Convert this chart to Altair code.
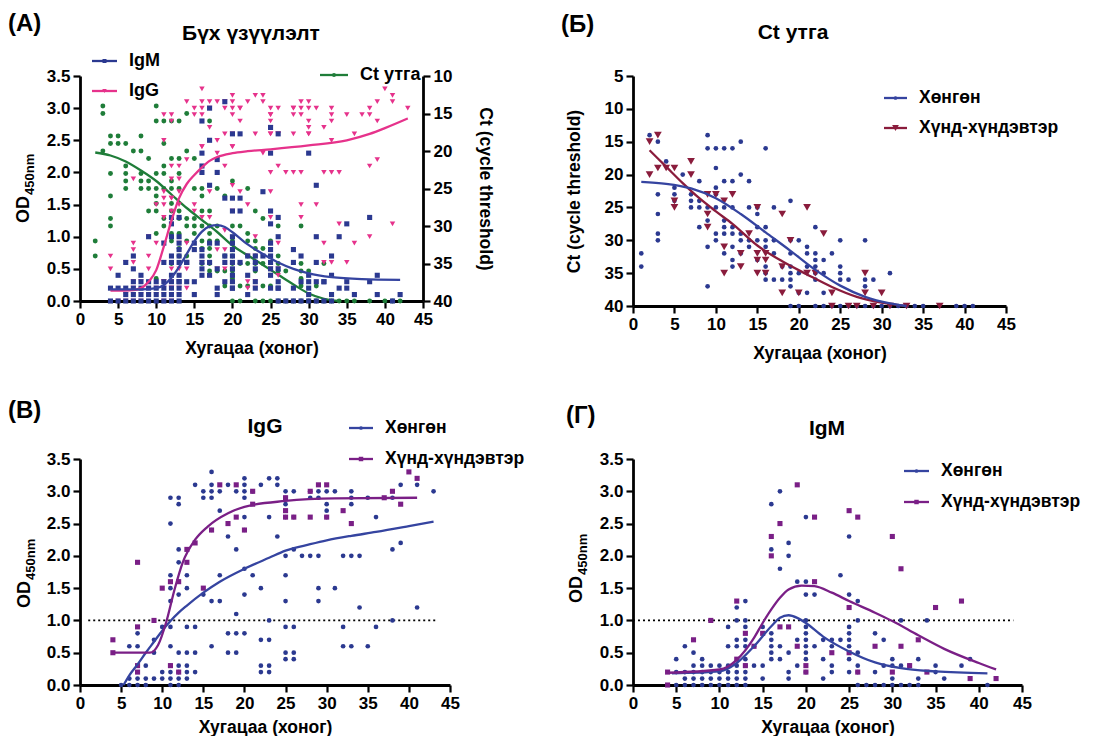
import altair as alt
import pandas as pd

FONT = "Liberation Sans"

# ---------------- data ----------------
x_ticks = [0, 5, 10, 15, 20, 25, 30, 35, 40, 45]
od_ticks = [0.0, 0.5, 1.0, 1.5, 2.0, 2.5, 3.0, 3.5]
ct_ticks_a = [10, 15, 20, 25, 30, 35, 40]
ct_ticks_b = [5, 10, 15, 20, 25, 30, 35, 40]

# Panel Б : Ct by day
ct_mild = {1: [32, 34], 2: [14], 3: [15, 23, 26, 29, 30], 4: [18], 5: [22, 23, 24], 6: [20],
           7: [23, 24, 25], 8: [21, 24, 25, 28], 9: [14, 16, 25, 27, 31, 37],
           10: [16, 19, 22, 23, 25, 29, 30], 11: [16, 21, 25, 27, 28, 29, 32],
           12: [16, 21, 25, 28, 29, 31, 33, 34], 13: [15, 20, 29, 30, 32], 14: [21, 25, 30, 31],
           15: [25, 26, 28, 30, 33], 16: [16, 28, 30, 31, 34, 35, 36], 17: [25, 30, 32, 36],
           18: [34, 36], 19: [24, 30, 32, 34, 35, 36, 37, 40], 20: [30, 35, 38, 40],
           21: [31, 32, 34, 38], 22: [28, 32, 33, 34, 35, 36, 40], 23: [33, 35, 38, 40],
           24: [32, 40], 25: [30, 34, 35, 36, 40], 26: [36, 40], 27: [40], 28: [30, 36, 37, 40],
           29: [36, 40], 30: [40], 31: [35, 40], 32: [40], 33: [40], 34: [40], 35: [40],
           39: [40], 40: [40], 41: [40]}
ct_severe = {2: [15, 20], 3: [14, 19], 4: [19], 5: [19, 24, 25], 7: [18, 20], 9: [23, 26, 28],
             10: [23], 11: [24, 31, 35], 12: [23], 13: [32, 34], 14: [29], 15: [25, 32, 33, 35],
             16: [32, 33, 35], 18: [26, 34, 38], 19: [30], 20: [38], 21: [25, 35], 22: [35],
             23: [29], 24: [38, 40], 26: [40], 27: [40], 28: [35, 38], 29: [40], 30: [38],
             31: [40], 33: [40], 37: [40]}

# Panel A : all Ct values by day
ct_all = {2: [32, 34], 3: [14, 15, 20], 4: [18, 19, 23, 26, 29, 30], 5: [18, 19],
          6: [19, 22, 23, 24, 25], 7: [20], 8: [18, 20, 23, 24, 25], 9: [21, 24, 25, 28],
          10: [14, 16, 23, 25, 26, 27, 28, 31, 37], 11: [16, 19, 22, 23, 25, 29, 30],
          12: [16, 21, 24, 25, 27, 28, 29, 31, 32, 35], 13: [16, 21, 23, 25, 28, 29, 31, 33, 34],
          14: [15, 20, 29, 30, 32, 34], 15: [21, 25, 29, 30, 31], 16: [25, 26, 28, 30, 32, 33, 35],
          17: [16, 28, 30, 31, 32, 33, 34, 35, 36], 18: [25, 30, 32, 36], 19: [26, 34, 36, 38],
          20: [24, 30, 32, 34, 35, 36, 37, 40], 21: [30, 35, 38, 40], 22: [25, 31, 32, 34, 35, 38],
          23: [28, 32, 33, 34, 35, 36, 40], 24: [29, 33, 35, 38, 40], 25: [32, 38, 40],
          26: [30, 34, 35, 36, 40], 27: [36, 40], 28: [40], 29: [30, 35, 36, 37, 38, 40],
          30: [36, 40], 31: [38, 40], 32: [35, 40], 33: [40], 34: [40], 35: [40], 36: [40],
          38: [40], 40: [40], 41: [40], 42: [40]}

# Panel B : IgG OD by day
igg_mild = {5: [0.0], 6: [0.0, 0.1, 0.6], 7: [0.0, 0.1, 0.6, 0.8], 8: [0.0, 0.1, 0.3],
            9: [0.1, 0.5, 0.7], 10: [0.1, 0.2, 0.9],
            11: [0.0, 0.1, 0.2, 0.3, 0.6, 0.9, 1.3, 1.5, 1.7, 2.5, 2.9],
            12: [0.0, 0.1, 0.2, 0.3, 0.5, 1.4, 1.6, 1.9, 2.1, 2.8, 2.9],
            13: [0.1, 0.2, 0.3, 0.5, 0.9, 1.5, 1.7], 14: [0.2, 0.5, 0.9, 3.1], 15: [1.4, 2.9, 3.0],
            16: [0.6, 1.3, 2.4, 2.9, 3.0, 3.1, 3.3], 17: [1.3, 1.7, 2.7, 3.0],
            18: [0.5, 0.8, 2.3, 3.1], 19: [0.5, 0.8, 1.1, 2.1, 3.0],
            20: [0.8, 1.4, 1.8, 2.4, 2.6, 2.9, 3.0, 3.1, 3.2], 21: [1.7, 3.0],
            22: [0.2, 0.3, 0.7, 1.5, 3.1], 23: [0.2, 0.3, 0.7, 1.0, 2.6, 3.2], 24: [2.3, 3.1, 3.2],
            25: [0.4, 0.5, 0.9, 1.3, 1.7, 2.0, 2.6, 2.8, 2.9, 3.0], 26: [0.4, 0.5, 0.9, 2.1, 2.6, 3.0],
            27: [2.0], 28: [2.0, 2.9, 3.0], 29: [1.3, 1.5, 2.0, 2.9, 3.0], 30: [2.6, 2.7, 2.8, 3.0],
            31: [1.5, 3.0], 32: [0.6, 0.9, 2.0], 33: [0.6, 2.0, 2.8, 2.9, 3.0], 34: [1.2, 2.0],
            35: [0.6, 2.9], 36: [0.9, 2.6], 38: [1.0, 2.1, 2.9], 39: [2.2, 3.1], 41: [1.2, 3.1],
            43: [3.0]}
igg_severe = {4: [0.5, 0.7], 7: [0.2, 0.3, 0.9, 1.9], 9: [1.0], 10: [1.5], 11: [0.3, 1.6],
              12: [0.2, 1.6], 13: [1.9, 2.1], 14: [2.2], 15: [1.5], 16: [2.4], 17: [3.1],
              18: [2.5], 19: [2.6, 3.1], 20: [2.4], 21: [2.8, 3.0], 25: [2.6, 2.7, 2.9],
              26: [2.6], 28: [2.6, 3.0], 29: [3.1], 30: [2.6, 3.1], 32: [2.7], 33: [2.5],
              37: [2.9], 38: [3.0], 39: [2.8], 40: [3.3], 41: [3.2]}

# Panel Г : IgM OD by day
igm_mild = {5: [0.0, 0.2, 0.4], 6: [0.0, 0.1, 0.2, 0.6], 7: [0.0, 0.1, 0.2, 0.3, 0.5],
            8: [0.0, 0.1, 0.2, 0.3, 0.4], 9: [0.0, 0.1, 0.2, 0.3], 10: [0.0, 0.1, 0.2, 0.3],
            11: [0.0, 0.1, 0.2, 0.3, 0.6, 0.9], 12: [0.0, 0.1, 0.2, 0.3, 0.6, 0.7, 1.0, 1.2],
            13: [0.0, 0.1, 0.2, 0.3, 0.4, 0.6, 0.7, 0.9, 1.0, 1.3], 14: [0.3, 0.6],
            15: [0.1, 0.3, 0.9], 16: [0.4, 0.5, 0.6, 0.7, 0.8, 2.1, 2.8], 17: [0.4, 0.6, 1.8, 3.0],
            18: [0.1, 0.2, 0.5, 2.0, 2.2], 19: [0.3, 0.7, 1.6],
            20: [0.2, 0.4, 0.5, 0.6, 0.7, 0.8, 0.9, 1.0, 1.4, 1.6, 2.6], 21: [0.6, 1.4],
            22: [0.1, 0.4, 0.7], 23: [0.2, 0.3, 0.6, 0.7], 24: [0.7, 1.7],
            25: [0.2, 0.4, 0.6, 0.7, 0.8, 0.9, 1.4, 2.3], 26: [0.0, 0.2, 0.3, 0.5, 1.0, 1.3],
            27: [0.0], 28: [0.0, 0.2, 0.8], 29: [0.0, 0.3, 0.7], 30: [0.0, 0.1, 0.3, 0.4],
            31: [0.0, 0.3, 1.0], 32: [0.0, 0.3], 33: [0.0, 0.1, 0.4], 34: [1.0], 35: [0.2, 0.3],
            36: [0.1], 38: [0.3], 39: [0.4], 41: [0.0]}
igm_severe = {4: [0.0, 0.2], 7: [0.7], 9: [1.0], 12: [0.4, 1.3], 13: [0.3, 0.8], 14: [0.6],
              15: [0.8], 16: [2.0, 2.3], 17: [0.9, 2.5], 18: [0.9], 19: [0.6, 3.1],
              20: [0.2, 0.3], 21: [1.6, 2.6], 23: [0.5], 25: [0.5, 1.2, 2.7], 26: [0.2, 2.6],
              28: [0.6], 30: [0.2, 2.3], 31: [0.6, 1.8], 32: [0.3], 33: [0.7], 34: [0.2],
              35: [1.2], 38: [1.3], 39: [0.1], 42: [0.1]}

# fitted curves
a_igm_x = [4, 8, 10, 11, 12, 13, 14, 15, 16, 17, 18, 19, 20, 22, 24, 26, 28, 30, 33, 37, 42]
a_igm_y = [0.18, 0.18, 0.2, 0.25, 0.36, 0.53, 0.73, 0.93, 1.08, 1.16, 1.18, 1.15, 1.07,
           0.88, 0.73, 0.6, 0.5, 0.43, 0.37, 0.34, 0.33]
a_igg_x = [4, 7, 8, 9, 10, 11, 12, 13, 14, 15, 16, 17, 18, 20, 22, 25, 30, 35, 38, 40, 43]
a_igg_y = [0.16, 0.17, 0.2, 0.3, 0.48, 0.85, 1.25, 1.6, 1.82, 1.96, 2.08, 2.18, 2.24, 2.3,
           2.33, 2.36, 2.42, 2.5, 2.6, 2.69, 2.84]
a_ct_x = [2, 4, 6, 8, 10, 12, 14, 16, 18, 20, 22, 24, 26, 28, 30, 32, 34]
a_ct_y = [20.2, 20.6, 21.4, 22.6, 24.0, 25.8, 27.6, 29.2, 30.8, 32.6, 33.9, 35.2, 36.5, 37.8,
          39.0, 39.7, 40.0]

b_mild_x = [1, 4, 7, 10, 13, 16, 19, 22, 25, 28, 31, 33]
b_mild_y = [21.1, 21.4, 22.1, 23.6, 26.0, 28.8, 31.6, 34.5, 36.9, 38.6, 39.6, 40.0]
b_sev_x = [2, 4, 6, 8, 10, 12, 15, 18, 21, 24, 27, 30, 33]
b_sev_y = [16.3, 18.8, 21.3, 23.6, 25.6, 27.5, 30.8, 33.2, 35.2, 37.1, 38.6, 39.5, 40.0]

c_mild_x = [5.3, 6, 7, 8, 9, 10, 11, 12, 13, 15, 17, 20, 23, 25, 28, 30, 33, 36, 40, 43]
c_mild_y = [0.0, 0.15, 0.32, 0.5, 0.67, 0.84, 0.99, 1.12, 1.23, 1.43, 1.6, 1.8, 1.97, 2.08,
            2.18, 2.24, 2.31, 2.37, 2.46, 2.53]
c_sev_x = [4, 6, 8.5, 9.5, 10.5, 11.5, 12.5, 14, 15.5, 18, 20, 25, 31, 41]
c_sev_y = [0.5, 0.5, 0.5, 0.62, 0.98, 1.48, 1.9, 2.25, 2.45, 2.66, 2.76, 2.85, 2.89, 2.9]

d_mild_x = [4.5, 10, 12, 14, 16, 17, 18, 19, 20, 22, 25, 28, 31, 35, 41]
d_mild_y = [0.18, 0.21, 0.34, 0.6, 0.91, 1.04, 1.08, 1.04, 0.96, 0.75, 0.52, 0.35, 0.26, 0.21, 0.18]
d_sev_x = [4, 10, 12, 14, 15, 16, 17, 18, 19.5, 21, 23, 25, 28, 30, 33, 36, 40, 42]
d_sev_y = [0.19, 0.24, 0.39, 0.73, 0.96, 1.17, 1.35, 1.48, 1.54, 1.53, 1.43, 1.3, 1.12, 0.99,
           0.77, 0.56, 0.34, 0.24]

threshold_od = 1.0
c_thr_range = [1.0, 43.5]
d_thr_range = [0.0, 44.0]

# ---------------- styling ----------------
NAVY = "#2b3990"
NAVY_LINE = "#3544a0"
PINK = "#e6328b"
GREEN = "#1f7d39"
MAROON = "#8a1c3c"
PURPLE = "#7a1f86"

one = pd.DataFrame({"k": [0]})


def points_df(d):
    rows = [(day, v) for day, vals in d.items() for v in vals]
    return pd.DataFrame(rows, columns=["day", "val"])


def curve_df(xs, ys):
    return pd.DataFrame({"day": xs, "val": ys})


def xenc(tp=12):
    return alt.X("day:Q", scale=alt.Scale(domain=[0, 45], nice=False),
                 axis=alt.Axis(values=x_ticks, title="Хугацаа (хоног)", labelFlush=False,
                               titlePadding=tp))


def y_od():
    return alt.Y("val:Q", scale=alt.Scale(domain=[0, 3.5], nice=False),
                 axis=alt.Axis(values=od_ticks, format=".1f", title=None, labelFlush=False))


def scatter(df, shape, color, size, y, tp=12):
    return alt.Chart(df).mark_point(shape=shape, filled=True, color=color, size=size,
                                    opacity=1).encode(x=xenc(tp), y=y)


def curve(df, color, y, tp=12):
    return alt.Chart(df).mark_line(interpolate="monotone", color=color,
                                   strokeWidth=2.3).encode(x=xenc(tp), y=y)


def threshold(rng, tp):
    df = pd.DataFrame({"day": [rng[0]], "day2": [rng[1]], "val": [threshold_od]})
    return alt.Chart(df).mark_rule(color="black", strokeWidth=1.8, strokeDash=[2, 3]).encode(
        x=xenc(tp), x2="day2:Q", y=y_od())


def txt(s, x, y, size, align="left", angle=0):
    return alt.Chart(one).mark_text(text=s, font=FONT, fontSize=size, fontWeight="bold",
                                    color="black", align=align, baseline="middle",
                                    angle=angle).encode(x=alt.value(x), y=alt.value(y))


def legend_entry(x0, x1, y, color, shape, size, label, fsize=17.5):
    seg = alt.Chart(one).mark_rule(color=color, strokeWidth=2.3).encode(
        x=alt.value(x0), x2=alt.value(x1), y=alt.value(y))
    mk = alt.Chart(one).mark_point(shape=shape, filled=True, opacity=1, color=color,
                                   size=size).encode(x=alt.value((x0 + x1) / 2), y=alt.value(y))
    lab = txt(label, x1 + 12, y, fsize)
    return [seg, mk, lab]


def od_title(xc, ybot):
    return [txt("OD", xc, ybot, 18, angle=270),
            txt("450nm", xc + 6, ybot - 28, 13, angle=270)]


# ---------------- Panel A ----------------
y_ct_a = alt.Y("val:Q", scale=alt.Scale(domain=[10, 40], reverse=True, nice=False),
               axis=alt.Axis(values=ct_ticks_a, format="d", orient="right",
                             title="Ct (cycle threshold)", titlePadding=24, labelFlush=False))

igm_all = pd.concat([points_df(igm_mild), points_df(igm_severe)], ignore_index=True)
igg_all = pd.concat([points_df(igg_mild), points_df(igg_severe)], ignore_index=True)

ct_group = alt.layer(
    scatter(points_df(ct_all), "circle", GREEN, 24, y_ct_a),
    curve(curve_df(a_ct_x, a_ct_y), GREEN, y_ct_a),
)
od_group = alt.layer(
    scatter(igg_all, "triangle-down", PINK, 30, y_od()),
    scatter(igm_all, "square", NAVY, 26, y_od()),
    curve(curve_df(a_igg_x, a_igg_y), PINK, y_od()),
    curve(curve_df(a_igm_x, a_igm_y), NAVY_LINE, y_od()),
    txt("(A)", -72, -52, 24),
    txt("Бүх үзүүлэлт", 171, -42, 21, align="center"),
    *legend_entry(12, 37, -15, NAVY, "square", 16, "IgM", 18),
    *legend_entry(12, 37, 15, PINK, "triangle-down", 20, "IgG", 18),
    *legend_entry(240, 268, -1, GREEN, "circle", 16, "Ct утга", 18),
    *od_title(-56, 147),
)
panel_a = alt.layer(ct_group, od_group).resolve_scale(y="independent").properties(
    width=343, height=225)

# ---------------- Panel Б ----------------
y_ct_b = alt.Y("val:Q", scale=alt.Scale(domain=[5, 40], reverse=True, nice=False),
               axis=alt.Axis(values=ct_ticks_b, format="d", title="Ct (cycle threshold)",
                             titlePadding=21, labelFlush=False))
panel_b = alt.layer(
    scatter(points_df(ct_mild), "circle", NAVY, 22, y_ct_b),
    scatter(points_df(ct_severe), "triangle-down", MAROON, 60, y_ct_b),
    curve(curve_df(b_sev_x, b_sev_y), MAROON, y_ct_b),
    curve(curve_df(b_mild_x, b_mild_y), NAVY_LINE, y_ct_b),
    txt("(Б)", -72, -51, 24),
    txt("Ct утга", 160, -43, 21, align="center"),
    *legend_entry(251, 274, 22, NAVY_LINE, "circle", 14, "Хөнгөн"),
    *legend_entry(251, 274, 52, MAROON, "triangle-down", 45, "Хүнд-хүндэвтэр"),
).properties(width=373, height=230)

# ---------------- Panel B (IgG) ----------------
TP2 = 7
panel_c = alt.layer(
    threshold(c_thr_range, TP2),
    scatter(points_df(igg_mild), "circle", NAVY, 22, y_od(), TP2),
    scatter(points_df(igg_severe), "square", PURPLE, 26, y_od(), TP2),
    curve(curve_df(c_mild_x, c_mild_y), NAVY_LINE, y_od(), TP2),
    curve(curve_df(c_sev_x, c_sev_y), PURPLE, y_od(), TP2),
    txt("(B)", -72, -48, 24),
    txt("IgG", 185, -32, 21, align="center"),
    *legend_entry(269, 293, -31, NAVY_LINE, "circle", 14, "Хөнгөн"),
    *legend_entry(269, 293, 0, PURPLE, "square", 20, "Хүнд-хүндэвтэр"),
    *od_title(-55, 149),
).properties(width=370, height=226)

# ---------------- Panel Г (IgM) ----------------
panel_d = alt.layer(
    threshold(d_thr_range, TP2),
    scatter(points_df(igm_mild), "circle", NAVY, 22, y_od(), TP2),
    scatter(points_df(igm_severe), "square", PURPLE, 26, y_od(), TP2),
    curve(curve_df(d_mild_x, d_mild_y), NAVY_LINE, y_od(), TP2),
    curve(curve_df(d_sev_x, d_sev_y), PURPLE, y_od(), TP2),
    txt("(Г)", -67, -43, 24),
    txt("IgM", 194, -30, 21, align="center"),
    *legend_entry(271, 296, 12, NAVY_LINE, "circle", 14, "Хөнгөн"),
    *legend_entry(271, 296, 43, PURPLE, "square", 20, "Хүнд-хүндэвтэр"),
    *od_title(-56, 144),
).properties(width=389, height=226)

chart = alt.concat(
    panel_a, panel_b, panel_c, panel_d,
    columns=2, spacing={"row": 153, "column": 183}, bounds="flush",
).properties(
    padding={"left": 0, "top": 4, "right": 0, "bottom": 0}, background="white"
).configure_view(stroke=None).configure_axis(
    domainColor="black", domainWidth=2.8, tickColor="black", tickWidth=2.2, tickSize=7,
    labelFont=FONT, labelFontSize=17, labelFontWeight="bold", labelColor="black",
    labelPadding=3, titleFont=FONT, titleFontSize=17.5, titleFontWeight="bold",
    titleColor="black", grid=False,
)

chart.save("out.html", embed_options={"renderer": "svg", "actions": False})
